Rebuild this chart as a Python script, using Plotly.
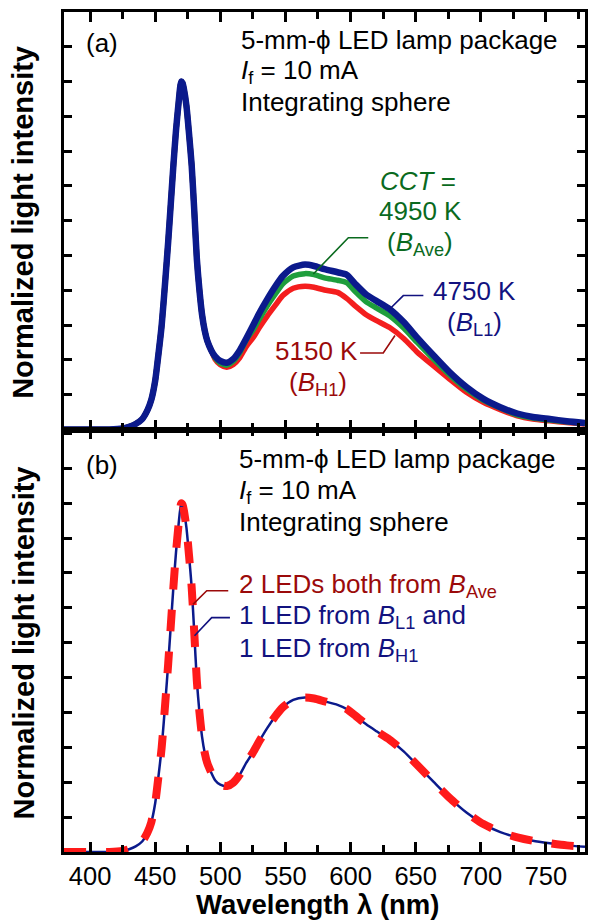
import plotly.graph_objects as go

# ---------------- data ----------------
wavelength = [380, 400, 415, 425, 430, 435, 440, 444, 447, 450, 452, 455, 458, 460,
              462, 464, 466, 468, 470, 471, 472, 474, 476, 478, 480, 482, 484, 486,
              488, 490, 493, 496, 500, 505, 510, 515, 520, 525, 530, 536, 542, 548,
              556, 565, 572, 580, 590, 597, 604, 612, 620, 630, 641, 651, 664, 676,
              689, 702, 715, 728, 740, 753, 766, 780]

peak_part = [0.0, 0.0, 0.0, 0.003, 0.008, 0.016, 0.03, 0.055, 0.085, 0.14, 0.2, 0.3,
             0.44, 0.54, 0.65, 0.76, 0.86, 0.94, 1.0, 0.996, 0.98, 0.93, 0.85, 0.76,
             0.63, 0.49, 0.4, 0.33, 0.285, 0.255, 0.228]

blue_L1 = peak_part + [0.21, 0.197, 0.192, 0.203, 0.228, 0.262, 0.298, 0.335, 0.374,
                       0.41, 0.441, 0.466, 0.474, 0.47, 0.461, 0.452, 0.445, 0.417,
                       0.388, 0.369, 0.346, 0.308, 0.265, 0.212, 0.165, 0.122, 0.088,
                       0.064, 0.046, 0.036, 0.03, 0.024, 0.019]

green_Ave = peak_part + [0.206, 0.191, 0.185, 0.196, 0.221, 0.258, 0.285, 0.318, 0.355,
                         0.388, 0.419, 0.441, 0.448, 0.445, 0.436, 0.429, 0.422, 0.395,
                         0.367, 0.349, 0.327, 0.291, 0.251, 0.201, 0.157, 0.116, 0.084,
                         0.062, 0.042, 0.033, 0.027, 0.022, 0.017]

red_H1 = peak_part + [0.202, 0.186, 0.179, 0.187, 0.207, 0.239, 0.263, 0.293, 0.326,
                      0.356, 0.385, 0.406, 0.412, 0.409, 0.401, 0.394, 0.377, 0.354,
                      0.33, 0.313, 0.293, 0.261, 0.223, 0.182, 0.145, 0.107, 0.078,
                      0.057, 0.039, 0.03, 0.025, 0.02, 0.016]

both_Ave = peak_part + [0.206, 0.193, 0.189, 0.199, 0.222, 0.256, 0.285, 0.318, 0.355,
                        0.388, 0.415, 0.436, 0.443, 0.44, 0.432, 0.422, 0.41, 0.39,
                        0.366, 0.346, 0.322, 0.288, 0.25, 0.2, 0.155, 0.113, 0.08,
                        0.057, 0.042, 0.032, 0.025, 0.019, 0.015]

mix_L1_H1 = peak_part + [0.206, 0.193, 0.189, 0.199, 0.222, 0.256, 0.285, 0.318, 0.355,
                         0.388, 0.415, 0.436, 0.443, 0.44, 0.432, 0.422, 0.41, 0.39,
                         0.366, 0.346, 0.322, 0.288, 0.25, 0.2, 0.155, 0.113, 0.08,
                         0.057, 0.042, 0.032, 0.025, 0.019, 0.015]

x_tick_vals = [400, 450, 500, 550, 600, 650, 700, 750]
x_tick_text = ["400", "450", "500", "550", "600", "650", "700", "750"]

# ---------------- styling ----------------
FONT = "Liberation Sans, Arial, Helvetica, sans-serif"
BLUE_LINE = "#0B1A8C"
GREEN_LINE = "#1E9E3C"
RED_LINE = "#F41E1E"
DASH_RED = "#FF1A1A"
GREEN_TXT = "#0A6A1E"
BLUE_TXT = "#12127F"
RED_TXT = "#9B0A0A"
TXT_SIZE = 26

fig = go.Figure()

fig.add_trace(go.Scatter(x=wavelength, y=red_H1, mode="lines", xaxis="x", yaxis="y",
                         line=dict(color=RED_LINE, width=5.5, shape="spline", smoothing=0.6),
                         showlegend=False, hoverinfo="skip"))
fig.add_trace(go.Scatter(x=wavelength, y=green_Ave, mode="lines", xaxis="x", yaxis="y",
                         line=dict(color=GREEN_LINE, width=5.5, shape="spline", smoothing=0.6),
                         showlegend=False, hoverinfo="skip"))
fig.add_trace(go.Scatter(x=wavelength, y=blue_L1, mode="lines", xaxis="x", yaxis="y",
                         line=dict(color=BLUE_LINE, width=6.5, shape="spline", smoothing=0.6),
                         showlegend=False, hoverinfo="skip"))

fig.add_trace(go.Scatter(x=wavelength, y=mix_L1_H1, mode="lines", xaxis="x2", yaxis="y2",
                         line=dict(color=BLUE_LINE, width=2.5, shape="spline", smoothing=0.6),
                         showlegend=False, hoverinfo="skip"))
fig.add_trace(go.Scatter(x=wavelength, y=both_Ave, mode="lines", xaxis="x2", yaxis="y2",
                         line=dict(color=DASH_RED, width=8, dash="22px,20px",
                                   shape="spline", smoothing=0.6),
                         showlegend=False, hoverinfo="skip"))

axis_common = dict(showline=True, linecolor="black", linewidth=2.5, mirror="ticks",
                   ticks="inside", tickcolor="black", showgrid=False, zeroline=False)

fig.update_layout(
    width=596, height=924,
    margin=dict(l=56, r=19, t=1, b=80),
    paper_bgcolor="white", plot_bgcolor="white",
    font=dict(family=FONT, color="black", size=24),
    xaxis=dict(axis_common, domain=[0, 1], anchor="y", range=[380, 780],
               tickvals=x_tick_vals, showticklabels=False, ticklen=10, tickwidth=2.5,
               minor=dict(dtick=25, tick0=0, ticklen=7, tickwidth=2.5, ticks="inside",
                          tickcolor="black", showgrid=False)),
    yaxis=dict(axis_common, domain=[0.50297, 1], anchor="x", range=[0, 1.2],
               dtick=0.1, tick0=0, showticklabels=False, ticklen=8, tickwidth=2.5),
    xaxis2=dict(axis_common, domain=[0, 1], anchor="y2", range=[380, 780],
                tickvals=x_tick_vals, ticktext=x_tick_text, showticklabels=True,
                ticklen=10, tickwidth=2.5,
                tickfont=dict(family=FONT, size=25.5, color="black"),
                minor=dict(dtick=25, tick0=0, ticklen=7, tickwidth=2.5, ticks="inside",
                           tickcolor="black", showgrid=False)),
    yaxis2=dict(axis_common, domain=[0, 0.50297], anchor="x2", range=[0, 1.2114],
                dtick=0.1, tick0=0, showticklabels=False, ticklen=8, tickwidth=2.5),
)

def txt(x, y, text, color="black", xanchor="left", xref="x", yref="y", size=TXT_SIZE):
    fig.add_annotation(x=x, y=y, xref=xref, yref=yref, text=text, showarrow=False,
                       xanchor=xanchor, yanchor="middle",
                       font=dict(family=FONT, size=size, color=color))

# top panel texts
txt(409.2, 1.111, "(a)", xanchor="center")
txt(514.0, 1.120, "5-mm-ϕ LED lamp package")
txt(514.0, 1.028, "<i>I</i><sub>f</sub> = 10 mA")
txt(514.0, 0.942, "Integrating sphere")
txt(652.0, 0.713, "<i>CCT</i> =", GREEN_TXT, "center")
txt(653.5, 0.627, "4950 K", GREEN_TXT, "center")
txt(653.5, 0.535, "(<i>B</i><sub>Ave</sub>)", GREEN_TXT, "center")
txt(694.8, 0.399, "4750 K", BLUE_TXT, "center")
txt(694.8, 0.306, "(<i>B</i><sub>L1</sub>)", BLUE_TXT, "center")
txt(573.5, 0.227, "5150 K", RED_TXT, "center")
txt(575.0, 0.132, "(<i>B</i><sub>H1</sub>)", RED_TXT, "center")

# bottom panel texts
txt(409.2, 1.110, "(b)", xanchor="center", xref="x2", yref="y2")
txt(513.0, 1.128, "5-mm-ϕ LED lamp package", xref="x2", yref="y2")
txt(513.0, 1.034, "<i>I</i><sub>f</sub> = 10 mA", xref="x2", yref="y2")
txt(513.0, 0.947, "Integrating sphere", xref="x2", yref="y2")
txt(513.0, 0.765, "2 LEDs both from <i>B</i><sub>Ave</sub>", RED_TXT, xref="x2", yref="y2")
txt(513.0, 0.675, "1 LED from <i>B</i><sub>L1</sub> and", BLUE_TXT, xref="x2", yref="y2")
txt(513.0, 0.581, "1 LED from <i>B</i><sub>H1</sub>", BLUE_TXT, xref="x2", yref="y2")

# axis titles
for yc in (0.7497, 0.2491):
    fig.add_annotation(x=-0.0775, y=yc, xref="paper", yref="paper",
                       text="<b>Normalized light intensity</b>", textangle=-90,
                       showarrow=False, xanchor="center", yanchor="middle",
                       font=dict(family=FONT, size=29, color="black"))
fig.add_annotation(x=0.4875, y=-0.0629, xref="paper", yref="paper",
                   text="<b>Wavelength λ (nm)</b>", showarrow=False,
                   xanchor="center", yanchor="middle",
                   font=dict(family=FONT, size=27.5, color="black"))

# leader lines
def leader(pts, color, xref="x", yref="y"):
    path = "M " + " L ".join(f"{a},{b}" for a, b in pts)
    fig.add_shape(type="path", path=path, xref=xref, yref=yref,
                  line=dict(color=color, width=1.6))

leader([(613.6, 0.551), (598.3, 0.551), (571.4, 0.447)], GREEN_TXT)
leader([(655.9, 0.385), (640.5, 0.385), (630.3, 0.347)], BLUE_TXT)
leader([(607.3, 0.220), (625.1, 0.220), (634.1, 0.270)], RED_TXT)
leader([(506.1, 0.749), (489.6, 0.749), (479.0, 0.710)], RED_TXT, "x2", "y2")
leader([(507.4, 0.672), (493.4, 0.672), (480.2, 0.620)], BLUE_TXT, "x2", "y2")

fig.write_html("out.html")
